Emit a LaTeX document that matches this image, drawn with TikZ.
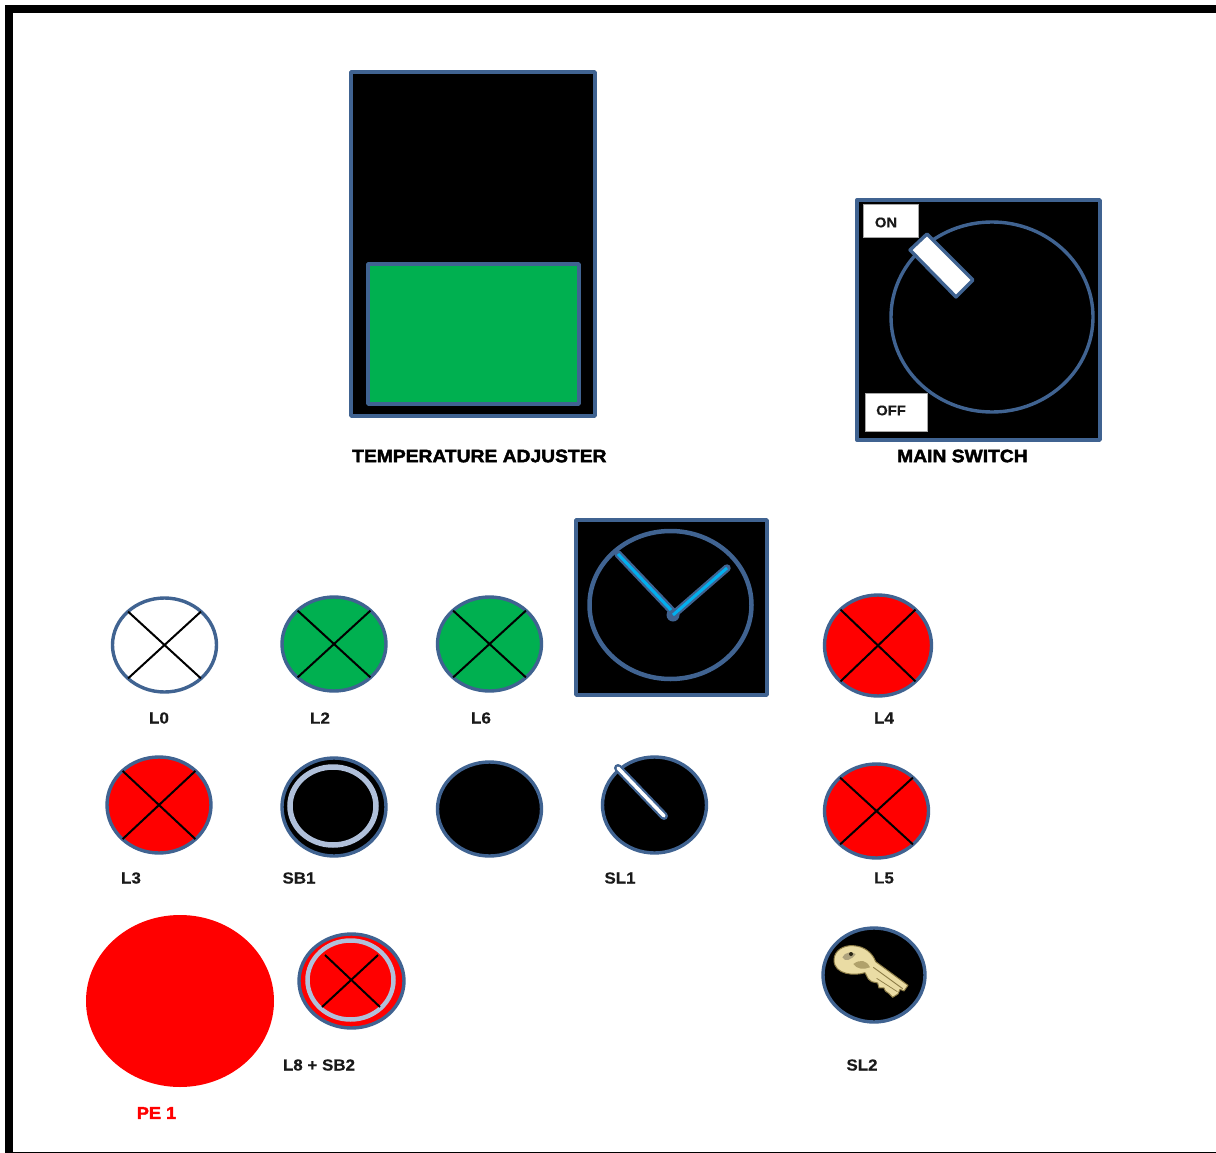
\documentclass[tikz,border=0pt]{standalone}
\usepackage{fontspec}
\setmainfont{Liberation Sans}
\newfontfamily\heavyfont{Liberation Sans}[BoldFeatures={FakeBold=2.2,FakeStretch=1.07}]
\newfontfamily\smallfont{Liberation Sans}[BoldFeatures={FakeBold=0.3,FakeStretch=1.06}]
\definecolor{edgeblue}{HTML}{406391}
\definecolor{lampgreen}{HTML}{00B050}
\definecolor{ringblue}{HTML}{B0C0DA}
\definecolor{handcyan}{HTML}{00B0F0}
\definecolor{keygold}{HTML}{EADCA4}
\definecolor{keydark}{HTML}{8A7A45}
\tikzset{
  lbl/.style={font=\smallfont\bfseries\fontsize{16}{18}\selectfont,inner sep=0pt,text=black!90},
  biglbl/.style={font=\heavyfont\bfseries\fontsize{18}{20}\selectfont,inner sep=0pt,text=black},
  boxo/.style={draw=edgeblue,line width=3.4pt,fill=black,line join=round},
  rimo/.style={draw=edgeblue,line width=3.4pt},
  cross/.style={draw=black,line width=2pt},
  tag/.style={fill=white,draw=black!35,line width=.6pt},
}
\newcommand{\lamp}[5]{% cx cy rx ry colour
  \fill[#5,rimo] (#1,#2) ellipse [x radius=#3,y radius=#4];
  \draw[cross] ({#1-0.70*#3},{#2-0.71*#4}) -- ({#1+0.70*#3},{#2+0.71*#4});
  \draw[cross] ({#1+0.70*#3},{#2-0.71*#4}) -- ({#1-0.70*#3},{#2+0.71*#4});
}
\begin{document}
\begin{tikzpicture}[x=1pt,y=-1pt]
\useasboundingbox (0,0) rectangle (1216,1153);
\fill[white] (0,0) rectangle (1216,1153);
% frame
\fill[black] (5,5) rectangle (1216,13);
\fill[black] (5,5) rectangle (13,1153);
\fill[black] (5,1151.5) rectangle (1216,1153);
% temperature adjuster
\draw[boxo] (351,72) rectangle (595,416);
\draw[draw=edgeblue,line width=3.4pt,fill=lampgreen,line join=round] (368,264) rectangle (579,404);
\node[biglbl,anchor=west] (tadj) at (352,456) {TEMPERATURE ADJUSTER};
% main switch
\draw[boxo] (857,200) rectangle (1100,440);
\draw[rimo] (992,317) ellipse [x radius=101,y radius=95];
\draw[tag] (863,204) rectangle (918,237);
\draw[tag] (865,393) rectangle (927,431);
\node[lbl,font=\smallfont\bfseries\fontsize{14}{16}\selectfont] (on) at (886,222.5) {ON};
\node[lbl,font=\smallfont\bfseries\fontsize{14}{16}\selectfont] (off) at (891,410.5) {OFF};
\draw[draw=edgeblue,line width=3.4pt,fill=white,line join=round] (927,234) -- (973,280) -- (956,297) -- (910,250) -- cycle;
\node[biglbl,anchor=west] (msw) at (897,456) {MAIN SWITCH};
% meter
\draw[boxo] (576,520) rectangle (767,695);
\draw[rimo,line width=4.5pt] (670.5,605) ellipse [x radius=81,y radius=74];
\fill[edgeblue] (673,615) circle (6.5);
\draw[edgeblue,line width=7.5pt,line cap=round] (618,554) -- (673,612);
\draw[edgeblue,line width=7.5pt,line cap=round] (673,615) -- (727,568);
\draw[handcyan,line width=3pt] (618,554) -- (671,610);
\draw[handcyan,line width=3pt] (673,615) -- (727,568);
% lamps
\lamp{164.5}{645}{52}{47}{white}
\lamp{334}{644}{52}{47}{lampgreen}
\lamp{489.5}{644}{52}{47}{lampgreen}
\lamp{878}{645.5}{53.5}{50.5}{red}
\lamp{159}{805}{52}{48}{red}
\lamp{876.5}{811}{52}{47}{red}
% SB1
\fill[black,rimo] (334,807) ellipse [x radius=52,y radius=49];
\draw[ringblue,line width=5.5pt] (333,806) ellipse [x radius=43,y radius=39];
% plain button
\fill[black,rimo] (489.5,809) ellipse [x radius=52,y radius=47];
% SL1
\fill[black,rimo] (654.5,805) ellipse [x radius=52,y radius=48];
\draw[edgeblue,line width=8pt,line cap=round] (618,768) -- (664,816);
\draw[white,line width=3.5pt,line cap=round] (618,768) -- (664,816);
% PE 1
\fill[red] (180,1001) ellipse [x radius=94,y radius=86];
\node[biglbl,text=red,font=\heavyfont\bfseries\fontsize{17}{18}\selectfont] (pe) at (156.5,1113) {PE 1};
% L8 + SB2
\fill[red,rimo] (351.5,981) ellipse [x radius=52.5,y radius=47];
\draw[ringblue,line width=4.5pt] (350.5,980) ellipse [x radius=43,y radius=39.5];
\draw[cross] (325,955) -- (380,1007);
\draw[cross] (378,955) -- (322,1007);
% SL2 key
\fill[black,rimo] (874,975) ellipse [x radius=51,y radius=47];
\begin{scope}[shift={(810,910)},x=.3333pt,y=-.3333pt]
\path[fill=keygold,draw=keydark,line width=1pt,line join=round]
  (72,150) .. controls (72,122) and (100,105) .. (130,107)
  .. controls (165,109) and (188,130) .. (197,155)
  -- (294,226) -- (282,243) -- (270,238) -- (264,252) -- (248,262)
  -- (236,250) -- (226,243) -- (222,234) -- (207,234) -- (203,219)
  -- (185,215) -- (175,207) -- (165,188)
  .. controls (135,198) and (72,195) .. (72,150) -- cycle;
\fill[keydark!70!white] (97,142) .. controls (105,125) and (125,125) .. (137,132) .. controls (125,150) and (105,157) .. (97,142) -- cycle;
\fill[black!70!keydark] (123,132) circle (6);
\draw[keydark,line width=.9pt] (190,172) -- (278,236);
\draw[keydark,line width=.7pt] (200,205) -- (262,245);
\fill[keydark!60!keygold] (130,162) .. controls (150,147) and (170,150) .. (180,172) .. controls (160,180) and (140,177) .. (130,162) -- cycle;
\end{scope}
% labels
\node[lbl] (l0) at (159,718) {L0};
\node[lbl] (l2) at (320,718) {L2};
\node[lbl] (l6) at (481,718) {L6};
\node[lbl] (l4) at (884,718) {L4};
\node[lbl] (l3) at (131,878) {L3};
\node[lbl] (sb1) at (299,878) {SB1};
\node[lbl] (sl1) at (620,878) {SL1};
\node[lbl] (l5) at (884,878) {L5};
\node[lbl] (l8) at (319,1065) {L8 + SB2};
\node[lbl] (sl2) at (862,1065) {SL2};
\end{tikzpicture}
\end{document}
